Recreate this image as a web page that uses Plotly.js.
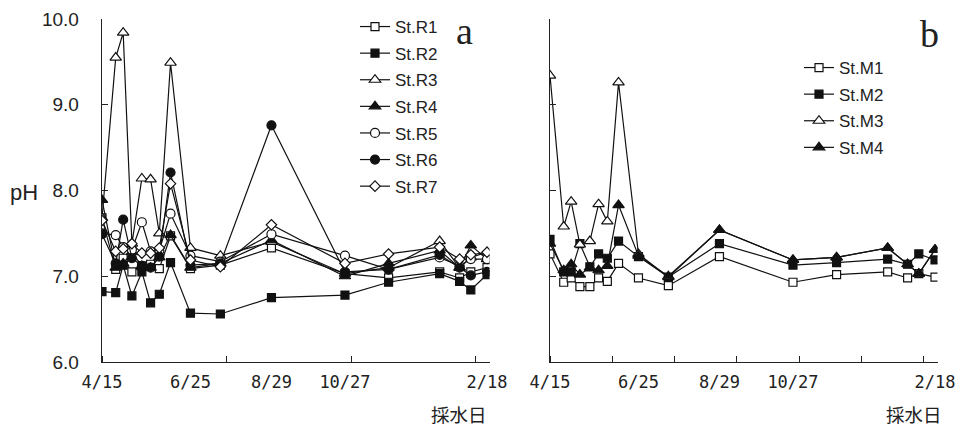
<!DOCTYPE html>
<html>
<head>
<meta charset="utf-8">
<script src="https://cdn.plot.ly/plotly-3.0.1.min.js"></script>
<style>html,body{margin:0;padding:0;background:#fff;}#chart{width:964px;height:427px;}</style>
</head>
<body>
<div id="chart"></div>
<script>
// sampling days counted from 4/15
const days = [0, 11, 17, 24, 32, 39, 46, 55, 71, 95, 136, 195, 230, 271, 287, 296, 309];
const labelDays = [0, 71, 136, 195, 309];
const labelText = ["4/15", "6/25", "8/29", "10/27", "2/18"];

// panel a: river stations
const R1 = [7.68, 7.08, 7.21, 7.05, 7.12, 7.14, 7.09, 7.47, 7.09, 7.13, 7.33, 7.03, 6.98, 7.05, 6.98, 7.05, 7.10];
const R2 = [6.82, 6.81, 7.13, 6.77, 7.05, 6.69, 6.79, 7.16, 6.57, 6.56, 6.75, 6.78, 6.93, 7.03, 6.94, 6.84, 7.02];
const R3 = [7.68, 9.55, 9.84, 7.38, 8.14, 8.13, 7.50, 9.49, 7.33, 7.24, 7.40, 7.03, 7.10, 7.41, 7.10, 7.22, 7.28];
const R4 = [7.89, 7.10, 7.15, 7.28, 7.12, 7.10, 7.22, 7.48, 7.10, 7.15, 7.42, 7.00, 7.15, 7.30, 7.10, 7.36, 7.20];
const R5 = [7.50, 7.48, 7.34, 7.31, 7.63, 7.29, 7.30, 7.73, 7.24, 7.17, 7.49, 7.24, 7.08, 7.22, 7.12, 7.20, 7.20];
const R6 = [7.49, 7.15, 7.66, 7.21, 7.12, 7.10, 7.23, 8.21, 7.13, 7.15, 8.76, 7.05, 7.08, 7.25, 7.10, 7.01, 7.05];
const R7 = [7.65, 7.29, 7.32, 7.38, 7.27, 7.27, 7.33, 8.08, 7.19, 7.11, 7.60, 7.15, 7.26, 7.34, 7.20, 7.25, 7.28];

// panel b: other stations
const M1 = [7.26, 6.93, 6.98, 6.88, 6.88, 6.98, 6.94, 7.15, 6.98, 6.89, 7.23, 6.93, 7.02, 7.05, 6.98, 7.03, 6.99];
const M2 = [7.43, 7.05, 7.05, 7.38, 7.11, 7.26, 7.21, 7.41, 7.23, 6.99, 7.38, 7.13, 7.16, 7.20, 7.14, 7.26, 7.19];
const M3 = [9.34, 7.58, 7.87, 7.37, 7.41, 7.84, 7.64, 9.26, 7.26, 6.99, 7.54, 7.19, 7.22, 7.33, 7.14, 7.03, 7.31];
const M4 = [7.38, 7.07, 7.14, 7.02, 7.10, 7.07, 7.12, 7.83, 7.24, 7.00, 7.54, 7.19, 7.22, 7.33, 7.14, 7.03, 7.31];

const namesA = ["St.R1", "St.R2", "St.R3", "St.R4", "St.R5", "St.R6", "St.R7"];
const namesB = ["St.M1", "St.M2", "St.M3", "St.M4"];

const styles = {
  sqOpen: {symbol: "square", color: "#ffffff", size: 8},
  sqFill: {symbol: "square", color: "#111111", size: 8},
  triOpen: {symbol: "triangle-up", color: "#ffffff", size: 10},
  triFill: {symbol: "triangle-up", color: "#111111", size: 10},
  cirOpen: {symbol: "circle", color: "#ffffff", size: 9},
  cirFill: {symbol: "circle", color: "#111111", size: 9},
  diaOpen: {symbol: "diamond", color: "#ffffff", size: 8}
};
const stylesA = [styles.sqOpen, styles.sqFill, styles.triOpen, styles.triFill, styles.cirOpen, styles.cirFill, styles.diaOpen];
const stylesB = [styles.sqOpen, styles.sqFill, styles.triOpen, styles.triFill];

function mk(name, vals, st, xa, ya, lg, grp) {
  return {
    type: "scatter", mode: "lines+markers", name: name,
    x: days, y: vals, xaxis: xa, yaxis: ya, legend: lg, legendgroup: grp,
    line: {color: "#111111", width: 1.2},
    marker: {symbol: st.symbol, size: st.size, color: st.color, line: {color: "#111111", width: 1.2}}
  };
}

const seriesA = [R1, R2, R3, R4, R5, R6, R7];
const seriesB = [M1, M2, M3, M4];
const traces = [];
seriesA.forEach((s, i) => traces.push(mk(namesA[i], s, stylesA[i], "x", "y", "legend", "a" + i)));
seriesB.forEach((s, i) => traces.push(mk(namesB[i], s, stylesB[i], "x2", "y2", "legend2", "b" + i)));

const tickFontX = {family: "DejaVu Sans Mono", size: 17, color: "#222"};
const xCommon = {
  range: [0, 311], showgrid: false, zeroline: false,
  showline: true, linecolor: "#222", linewidth: 1.3,
  tickmode: "array", tickvals: labelDays, ticktext: labelText, ticks: "",
  tickfont: tickFontX, ticklabelstandoff: 4,
  minor: {tickmode: "linear", tick0: 0, dtick: 100, ticks: "inside", ticklen: 6, tickcolor: "#222", tickwidth: 1}
};
const yCommon = {
  range: [6, 10], dtick: 1, tick0: 6, tickformat: ".1f",
  showgrid: false, zeroline: false,
  showline: true, linecolor: "#222", linewidth: 1.3,
  ticks: "inside", ticklen: 6, tickcolor: "#222", tickwidth: 1,
  tickfont: {family: "Liberation Sans", size: 19, color: "#222"}
};

const legendFont = {family: "Liberation Sans", size: 17, color: "#222"};
const ann = (text, px, py, font) => ({text: text, x: px/964, y: 1 - py/427, xref: "paper", yref: "paper",
  xanchor: "center", yanchor: "middle", showarrow: false, font: font});
const layout = {
  width: 964, height: 427,
  margin: {l: 0, r: 0, t: 0, b: 0},
  paper_bgcolor: "#ffffff", plot_bgcolor: "rgba(0,0,0,0)",
  showlegend: true,
  xaxis: Object.assign({}, xCommon, {domain: [102/964, 489.5/964], anchor: "y"}),
  yaxis: Object.assign({}, yCommon, {domain: [65/427, 408/427], anchor: "x", ticklabelstandoff: 18}),
  xaxis2: Object.assign({}, xCommon, {domain: [550/964, 937.5/964], anchor: "y2",
    minor: {tickmode: "linear", tick0: 0, dtick: 50, ticks: "inside", ticklen: 6, tickcolor: "#222", tickwidth: 1}}),
  yaxis2: Object.assign({}, yCommon, {domain: [65/427, 408/427], anchor: "x2", showticklabels: false}),
  legend: {x: 355/964, y: 1 - 9/427, xanchor: "left", yanchor: "top", bgcolor: "rgba(0,0,0,0)",
    font: legendFont, tracegroupgap: 1.5, traceorder: "grouped"},
  legend2: {x: 799/964, y: 1 - 50/427, xanchor: "left", yanchor: "top", bgcolor: "rgba(0,0,0,0)",
    font: legendFont, tracegroupgap: 1.5, traceorder: "grouped"},
  annotations: [
    ann("pH", 24, 192, {family: "Liberation Sans", size: 22, color: "#222"}),
    ann("a", 464, 31, {family: "Liberation Serif", size: 38, color: "#222"}),
    ann("b", 929, 34, {family: "Liberation Serif", size: 38, color: "#222"}),
    ann("採水日", 459, 413.5, {family: "Noto Sans CJK JP", size: 18.5, color: "#222"}),
    ann("採水日", 914, 413.5, {family: "Noto Sans CJK JP", size: 18.5, color: "#222"})
  ]
};

Plotly.newPlot("chart", traces, layout, {displayModeBar: false, staticPlot: true});
</script>
</body>
</html>
